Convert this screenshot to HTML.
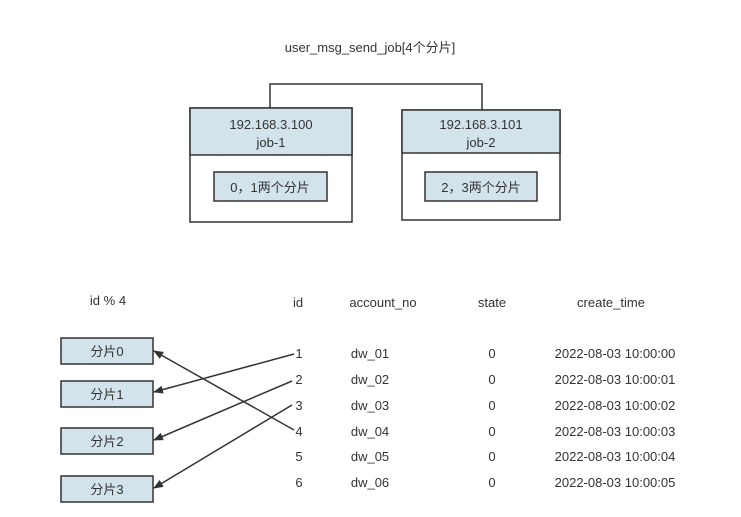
<!DOCTYPE html>
<html><head><meta charset="utf-8"><style>
body{margin:0;background:#fff;}
svg text{font-family:"Liberation Sans","Noto Sans CJK SC",sans-serif;fill:#333;}
</style></head><body>
<svg width="741" height="512" viewBox="0 0 741 512" xmlns="http://www.w3.org/2000/svg">
<defs><marker id="a" markerWidth="10" markerHeight="8" refX="9" refY="4" orient="auto" markerUnits="userSpaceOnUse"><path d="M0,0 L10,4 L0,8 z" fill="#333"/></marker></defs>
<text x="370" y="52" font-size="13" text-anchor="middle">user_msg_send_job[4个分片]</text>
<path d="M270,108 V84 H482 V110" fill="none" stroke="#333" stroke-width="1.5"/>
<rect x="190" y="108" width="162" height="114" fill="#fff" stroke="#333" stroke-width="1.5"/>
<rect x="190" y="108" width="162" height="47" fill="#d3e3ec" stroke="#333" stroke-width="1.5"/>
<text x="271" y="129" font-size="13" text-anchor="middle">192.168.3.100</text>
<text x="271" y="147" font-size="13" text-anchor="middle">job-1</text>
<rect x="214" y="172" width="113" height="29" fill="#d3e3ec" stroke="#333" stroke-width="1.5"/>
<text x="270" y="192" font-size="13" text-anchor="middle">0，1两个分片</text>
<rect x="402" y="110" width="158" height="110" fill="#fff" stroke="#333" stroke-width="1.5"/>
<rect x="402" y="110" width="158" height="43" fill="#d3e3ec" stroke="#333" stroke-width="1.5"/>
<text x="481" y="129" font-size="13" text-anchor="middle">192.168.3.101</text>
<text x="481" y="147" font-size="13" text-anchor="middle">job-2</text>
<rect x="425" y="172" width="112" height="29" fill="#d3e3ec" stroke="#333" stroke-width="1.5"/>
<text x="481" y="192" font-size="13" text-anchor="middle">2，3两个分片</text>

<text x="108" y="305" font-size="13" text-anchor="middle">id % 4</text>
<g font-size="13">
<text x="298" y="307" text-anchor="middle">id</text>
<text x="383" y="307" text-anchor="middle">account_no</text>
<text x="492" y="307" text-anchor="middle">state</text>
<text x="611" y="307" text-anchor="middle">create_time</text>
</g>
<g fill="#d3e3ec" stroke="#333" stroke-width="1.5">
<rect x="61" y="338" width="92" height="26"/>
<rect x="61" y="381" width="92" height="26"/>
<rect x="61" y="428" width="92" height="26"/>
<rect x="61" y="476" width="92" height="26"/>
</g>
<g font-size="13" text-anchor="middle">
<text x="107" y="356">分片0</text>
<text x="107" y="399">分片1</text>
<text x="107" y="446">分片2</text>
<text x="107" y="494">分片3</text>
</g>
<g font-size="13">
<g text-anchor="middle">
<text x="299" y="358">1</text><text x="299" y="384">2</text><text x="299" y="410">3</text>
<text x="299" y="436">4</text><text x="299" y="461">5</text><text x="299" y="487">6</text>
<text x="370" y="358">dw_01</text><text x="370" y="384">dw_02</text><text x="370" y="410">dw_03</text>
<text x="370" y="436">dw_04</text><text x="370" y="461">dw_05</text><text x="370" y="487">dw_06</text>
<text x="492" y="358">0</text><text x="492" y="384">0</text><text x="492" y="410">0</text>
<text x="492" y="436">0</text><text x="492" y="461">0</text><text x="492" y="487">0</text>
<text x="615" y="358">2022-08-03 10:00:00</text><text x="615" y="384">2022-08-03 10:00:01</text><text x="615" y="410">2022-08-03 10:00:02</text>
<text x="615" y="436">2022-08-03 10:00:03</text><text x="615" y="461">2022-08-03 10:00:04</text><text x="615" y="487">2022-08-03 10:00:05</text>
</g></g>
<g stroke="#333" stroke-width="1.5" marker-end="url(#a)">
<line x1="294" y1="354" x2="154" y2="392"/>
<line x1="292" y1="381" x2="154" y2="440"/>
<line x1="292" y1="405" x2="154" y2="488"/>
<line x1="294" y1="430" x2="154" y2="351"/>
</g>
</svg>
</body></html>
